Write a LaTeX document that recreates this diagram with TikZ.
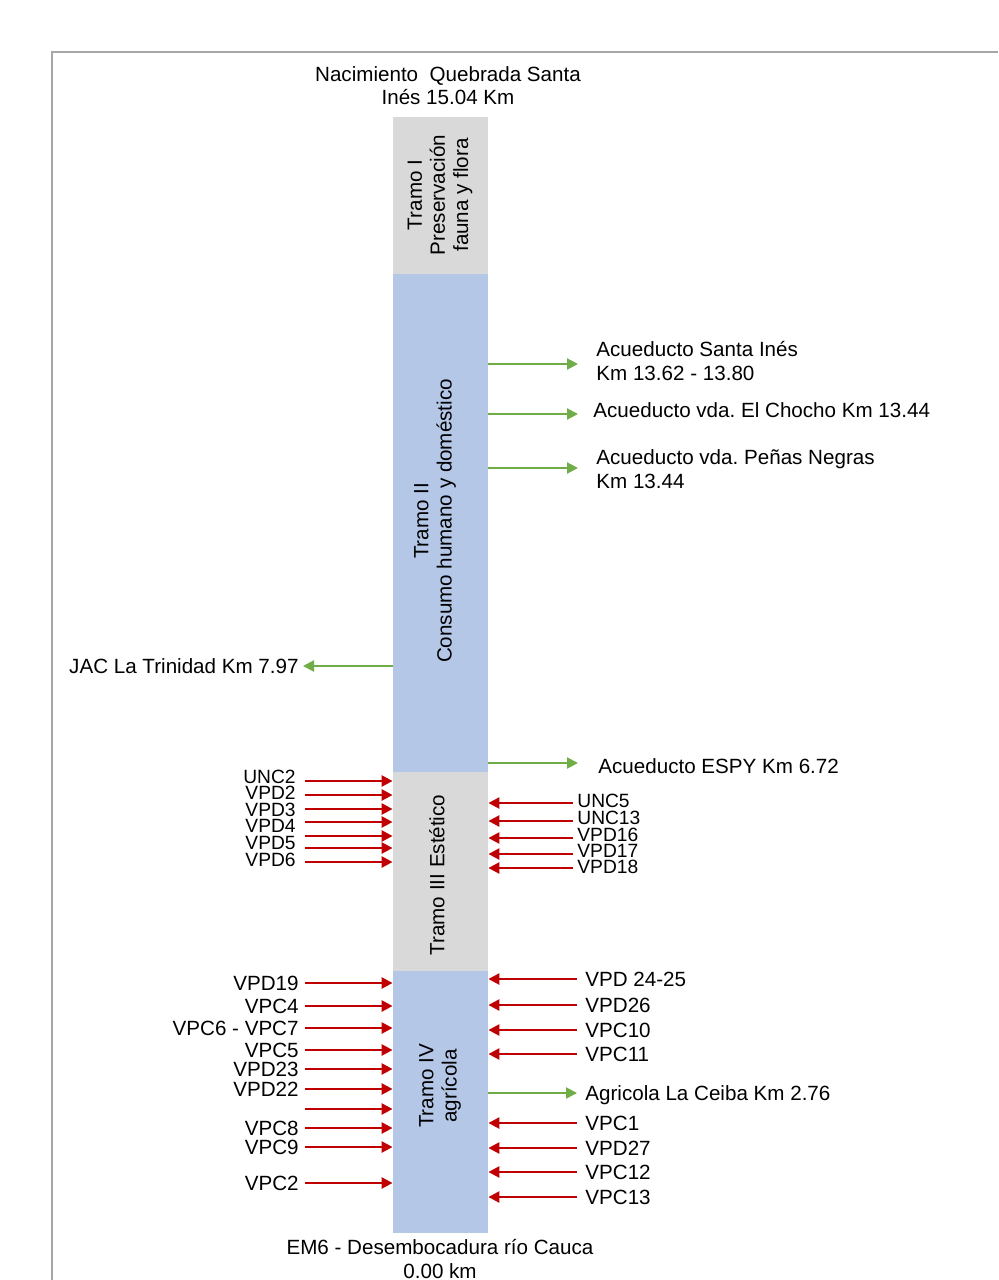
\documentclass[tikz,border=0pt]{standalone}
\usepackage{fontspec}
\setmainfont{Liberation Sans}
\usetikzlibrary{arrows.meta,positioning,calc}
\definecolor{grisT}{HTML}{D9D9D9}
\definecolor{azulT}{HTML}{B4C7E7}
\definecolor{rojoV}{HTML}{C00000}
\definecolor{verdeC}{HTML}{70AD47}
\definecolor{marco}{HTML}{A6A6A6}
\frenchspacing
\begin{document}
\begin{tikzpicture}[x=0.5pt,y=-0.5pt,>={Triangle[length=5.5pt,width=5.5pt]},font=\fontsize{10.3}{11.6}\selectfont]
  \tikzstyle{tramo}=[inner sep=0pt,minimum width=47.5pt,anchor=north]
  \tikzstyle{verter}=[rojoV,line width=1.25pt,->]
  \tikzstyle{capta}=[verdeC,line width=1.1pt,->]
  \tikzstyle{izq}=[anchor=east,inner sep=0pt,text depth=0pt]
  \tikzstyle{der}=[anchor=west,inner sep=0pt,text depth=0pt,align=left]
  \tikzstyle{apretado}=[font=\fontsize{9.6}{10}\selectfont]
  \useasboundingbox (0,0) rectangle (998,1280);
  \draw[marco,line width=1.2pt] (52,1280) -- (52,52) -- (998,52);
  % columna de tramos
  \node[tramo,fill=grisT,minimum height=78.5pt] (t1) at (440.5,117) {};
  \node[tramo,fill=azulT,minimum height=249pt] (t2) at (440.5,274) {};
  \node[tramo,fill=grisT,minimum height=99.5pt] (t3) at (440.5,772) {};
  \node[tramo,fill=azulT,minimum height=131pt] (t4) at (440.5,971) {};
  \node[rotate=90,align=center] (n1) at (440,195) {Tramo I\\Preservación\\fauna y flora};
  \node[rotate=90,align=center] (n2) at (435,521) {Tramo II\\Consumo humano y doméstico};
  \node[rotate=90,align=center] (n3) at (437,875) {Tramo III Estético};
  \node[rotate=90,align=center] (n4) at (440,1086) {Tramo IV\\agrícola};
  \node[align=center] (nac) at (448,86) {Nacimiento\ \ Quebrada Santa\\Inés 15.04 Km};
  \node[align=center] (desemb) at (440,1259) {EM6 - Desembocadura río Cauca\\0.00 km};
  % captaciones
  \node[der] (c1) at (596,361) {Acueducto Santa Inés\\Km 13.62 - 13.80};
  \node[der] (c2) at (593,410) {Acueducto vda. El Chocho Km 13.44};
  \node[der] (c3) at (596,469) {Acueducto vda. Peñas Negras\\Km 13.44};
  \node[der] (c4) at (598,766) {Acueducto ESPY Km 6.72};
  \node[izq] (c5) at (299,666) {JAC La Trinidad Km 7.97};
  \coordinate (e1) at (578,364);
  \coordinate (e2) at (578,414);
  \coordinate (e3) at (578,468);
  \coordinate (e4) at (578,763);
  \foreach \i in {1,2,3,4}
    \draw[capta] (e\i -| t2.east) -- (e\i);
  \draw[capta,shorten >=2pt] (c5.east -| t2.west) -- (c5.east);
  % vertimientos tramo III
  \foreach \n/\y [count=\i] in {UNC2/777,VPD2/793,VPD3/810,VPD4/826,VPD5/843,VPD6/860}
    \node[izq,apretado] (ia\i) at (296,\y) {\n};
  \foreach \y [count=\i] in {781,795,809,822,836,848,862} {
    \coordinate (a\i) at (305,\y);
    \draw[verter] (a\i) -- (a\i -| t3.west);
  }
  \foreach \n/\y [count=\i] in {UNC5/801,UNC13/818,VPD16/835,VPD17/851,VPD18/867}
    \node[der,apretado] (da\i) at (577,\y) {\n};
  \foreach \y [count=\i] in {803,821,838,854,868} {
    \coordinate (b\i) at (573,\y);
    \draw[verter] (b\i) -- (b\i -| t3.east);
  }
  % vertimientos tramo IV
  \foreach \n/\y [count=\i] in {VPD19/983,VPC4/1006,VPC6 - VPC7/1028,VPC5/1050,VPD23/1069,VPD22/1089,VPC8/1128,VPC9/1147,VPC2/1183} {
    \node[izq] (iv\i) at (299,\y) {\n};
    \draw[verter,shorten <=3pt] (iv\i.east) -- (iv\i.east -| t4.west);
  }
  \coordinate (iv0) at (305,1109);
  \draw[verter] (iv0) -- (iv0 -| t4.west);
  \foreach \n/\y [count=\i] in {VPD 24-25/979,VPD26/1005,VPC10/1030,VPC11/1054,VPC1/1123,VPD27/1148,VPC12/1172,VPC13/1197} {
    \node[der] (dv\i) at (585,\y) {\n};
    \draw[verter,shorten <=4pt] (dv\i.west) -- (dv\i.west -| t4.east);
  }
  \node[der] (agr) at (585,1093) {Agricola La Ceiba Km 2.76};
  \draw[capta,shorten >=4pt] (agr.west -| t4.east) -- (agr.west);
\end{tikzpicture}
\end{document}
